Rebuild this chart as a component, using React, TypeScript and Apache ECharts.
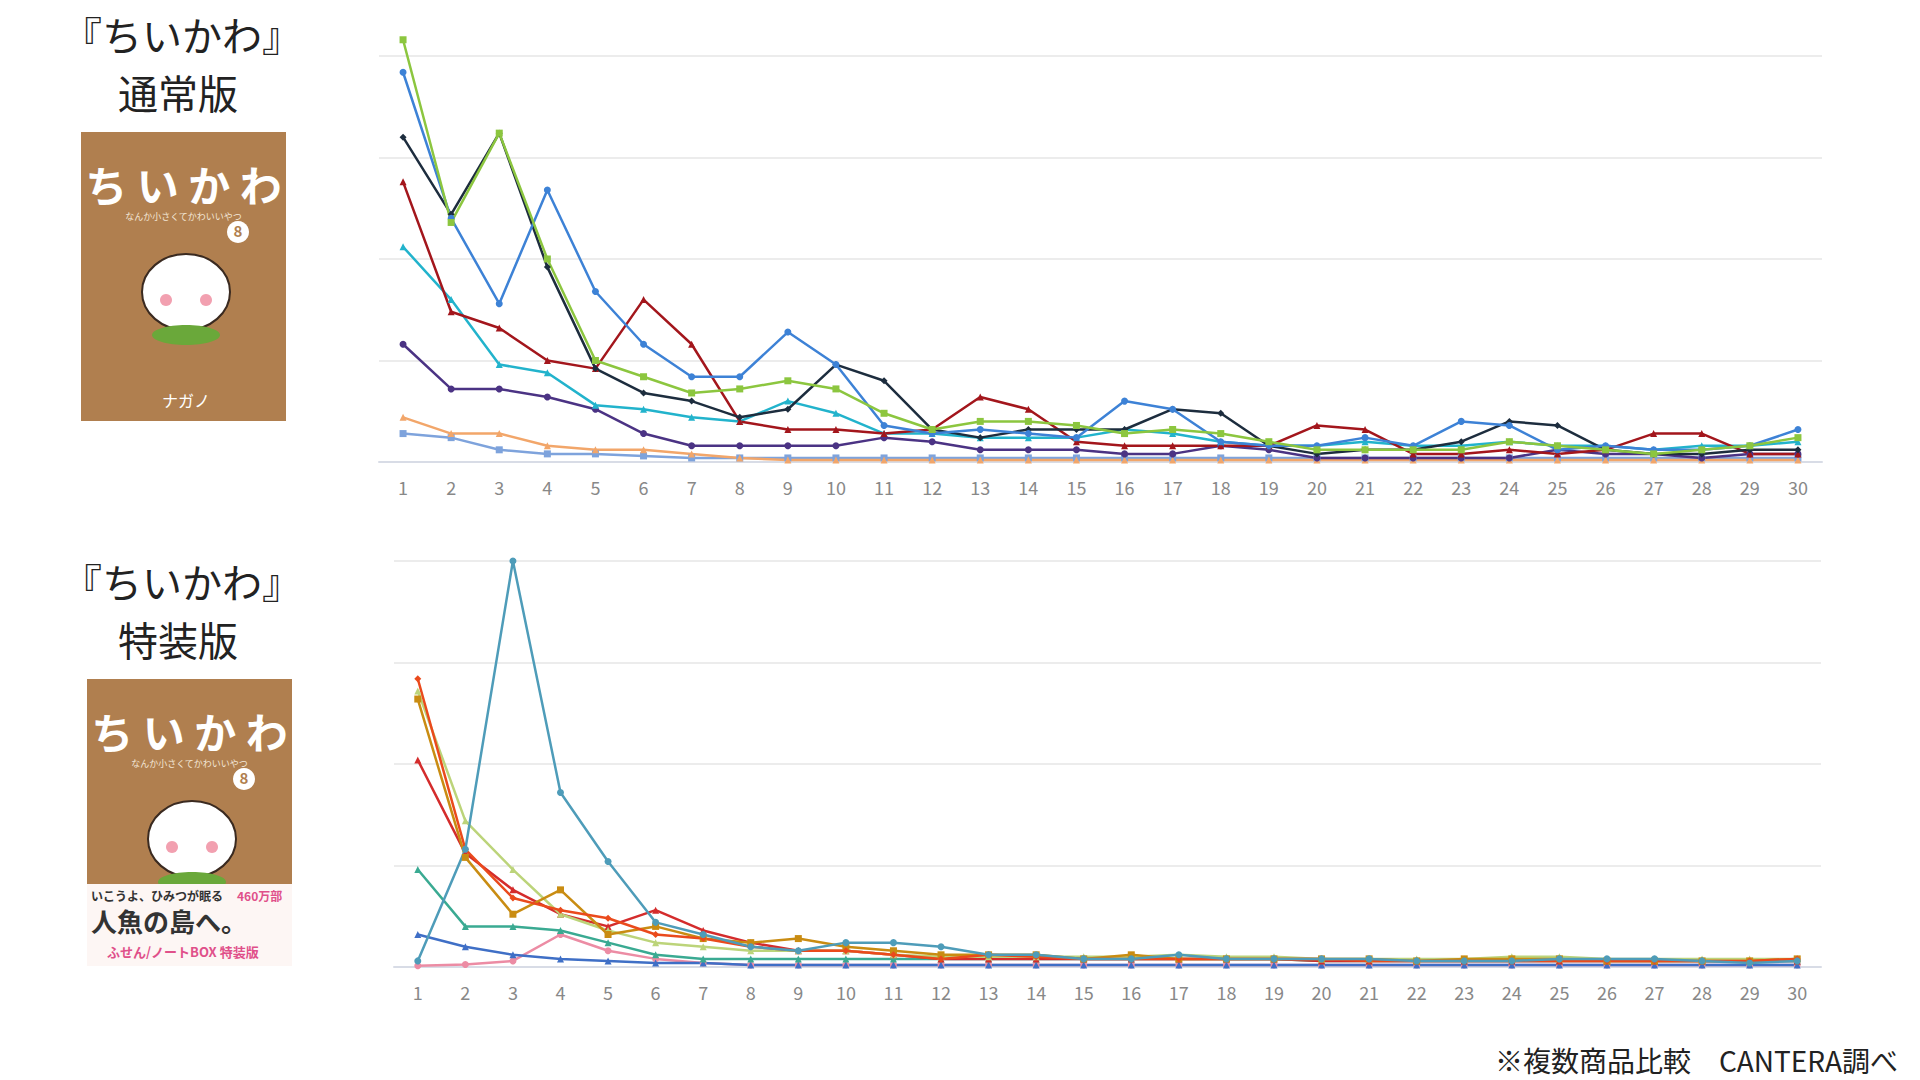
import { useEffect, useRef } from "react";
import * as echarts from "echarts";

const days = Array.from({ length: 30 }, (_, i) => String(i + 1));

// 通常版
const normGreen = [104, 59, 81, 50, 25, 21, 17, 18, 20, 18, 12, 8, 10, 10, 9, 7, 8, 7, 5, 3, 3, 3, 3, 5, 4, 3, 2, 3, 4, 6];
const normBlue = [96, 60, 39, 67, 42, 29, 21, 21, 32, 24, 9, 7, 8, 7, 6, 15, 13, 5, 4, 4, 6, 4, 10, 9, 3, 4, 3, 3, 4, 8];
const normNavy = [80, 61, 81, 48, 23, 17, 15, 11, 13, 24, 20, 8, 6, 8, 8, 8, 13, 12, 4, 2, 3, 3, 5, 10, 9, 3, 2, 2, 3, 3];
const normRed = [69, 37, 33, 25, 23, 40, 29, 10, 8, 8, 7, 8, 16, 13, 5, 4, 4, 4, 4, 9, 8, 2, 2, 3, 2, 3, 7, 7, 2, 2];
const normCyan = [53, 40, 24, 22, 14, 13, 11, 10, 15, 12, 7, 7, 6, 6, 6, 8, 7, 5, 4, 4, 5, 4, 4, 5, 4, 4, 3, 4, 4, 5];
const normPurple = [29, 18, 18, 16, 13, 7, 4, 4, 4, 4, 6, 5, 3, 3, 3, 2, 2, 4, 3, 1, 1, 1, 1, 1, 3, 2, 2, 1, 2, 2];
const normOrange = [11, 7, 7, 4, 3, 3, 2, 1, 0.5, 0.5, 0.5, 0.5, 0.5, 0.5, 0.5, 0.5, 0.5, 0.5, 0.5, 0.5, 0.5, 0.5, 0.5, 0.5, 0.5, 0.5, 0.5, 0.5, 0.5, 0.5];
const normLightBlue = [7, 6, 3, 2, 2, 1.5, 1, 1, 1, 1, 1, 1, 1, 1, 1, 1, 1, 1, 1, 1, 1, 1, 1, 1, 1, 1, 1, 1, 1, 1];

// 特装版
const specTeal = [1.5, 29, 100, 43, 26, 11, 8, 5, 4, 6, 6, 5, 3, 3, 2, 2, 3, 2, 2, 2, 2, 1.5, 1.5, 1.5, 2, 2, 2, 1.5, 1, 1.5];
const specOrangeRed = [71, 29, 17, 14, 12, 8, 7, 5, 4, 4, 3, 2, 3, 2.5, 2, 2, 2, 2, 2, 2, 1.5, 1.5, 1.5, 1.5, 1.5, 1.5, 1.5, 1.5, 1.5, 2];
const specGold = [66, 27, 13, 19, 8, 10, 7, 6, 7, 5, 4, 3, 3, 3, 2, 3, 2, 2, 2, 2, 2, 1.5, 2, 2, 2, 1.5, 1.5, 1.5, 1.5, 2];
const specYellowGreen = [68, 36, 24, 13, 9, 6, 5, 4, 4, 4, 3, 2.5, 2.5, 2.5, 2.5, 2.5, 3, 2.5, 2.5, 2, 2, 2, 2, 2.5, 2.5, 2, 2, 2, 2, 2];
const specCrimson = [51, 28, 19, 13, 10, 14, 9, 6, 4, 4, 3, 2, 2, 2, 2, 2, 2, 2, 2, 1.5, 1.5, 1.5, 1.5, 1.5, 1.5, 1.5, 1.5, 1.5, 1.5, 1.5];
const specGreen = [24, 10, 10, 9, 6, 3, 2, 2, 2, 2, 2, 2, 2, 2, 2, 2, 2, 2, 2, 1.5, 1.5, 1.5, 1.5, 1.5, 1.5, 1.5, 1.5, 1.5, 1.5, 1.5];
const specBlue = [8, 5, 3, 2, 1.5, 1, 1, 0.5, 0.5, 0.5, 0.5, 0.5, 0.5, 0.5, 0.5, 0.5, 0.5, 0.5, 0.5, 0.5, 0.5, 0.5, 0.5, 0.5, 0.5, 0.5, 0.5, 0.5, 0.5, 0.5];
const specPink = [0.3, 0.6, 1.5, 8, 4, 2, 1, 0.5, 0.5, 0.5, 0.5, 0.5, 0.5, 0.5, 0.5, 0.5, 0.5, 0.5, 0.5, 0.5, 0.5, 0.5, 0.5, 0.5, 0.5, 0.5, 0.5, 0.5, 0.5, 0.5];

const FONT = "'Noto Sans CJK JP', 'Noto Sans', sans-serif";

function line(data: number[], color: string, symbol: string, idx: number) {
  return {
    type: "line" as const,
    data,
    xAxisIndex: idx,
    yAxisIndex: idx,
    symbol,
    symbolSize: 7,
    clip: false,
    lineStyle: { color, width: 2.5 },
    itemStyle: { color },
  };
}

function cover(x: number, y: number, h: number, special: boolean) {
  const w = 205;
  const kids: any[] = [
    { type: "rect", shape: { x, y, width: w, height: h }, style: { fill: "#b07f4f" } },
    { type: "text", x: x + w / 2, y: y + 30, style: { text: "ち い か わ", fill: "#fff", font: `bold 42px ${FONT}`, textAlign: "center" } },
    { type: "text", x: x + w / 2, y: y + 80, style: { text: "なんか小さくてかわいいやつ", fill: "#f3e6d6", font: `9px ${FONT}`, textAlign: "center" } },
    { type: "circle", shape: { cx: x + 157, cy: y + 100, r: 11 }, style: { fill: "#fff" } },
    { type: "text", x: x + 157, y: y + 91, style: { text: "8", fill: "#b07f4f", font: `bold 15px ${FONT}`, textAlign: "center" } },
    { type: "ellipse", shape: { cx: x + 105, cy: y + 160, rx: 44, ry: 38 }, style: { fill: "#fff", stroke: "#3a2a20", lineWidth: 2 } },
    { type: "ellipse", shape: { cx: x + 105, cy: y + 203, rx: 34, ry: 10 }, style: { fill: "#6aa83a" } },
    { type: "circle", shape: { cx: x + 85, cy: y + 168, r: 6 }, style: { fill: "#f2a0b0" } },
    { type: "circle", shape: { cx: x + 125, cy: y + 168, r: 6 }, style: { fill: "#f2a0b0" } },
  ];
  if (!special) {
    kids.push({ type: "text", x: x + 105, y: y + 260, style: { text: "ナガノ", fill: "#fff", font: `16px ${FONT}`, textAlign: "center" } });
  } else {
    kids.push(
      { type: "rect", shape: { x, y: y + 205, width: w, height: h - 205 }, style: { fill: "#fdf6f4" } },
      { type: "text", x: x + 4, y: y + 210, style: { text: "いこうよ、ひみつが眠る", fill: "#333", font: `bold 12px ${FONT}` } },
      { type: "text", x: x + 4, y: y + 228, style: { text: "人魚の島へ。", fill: "#333", font: `bold 26px ${FONT}` } },
      { type: "text", x: x + 150, y: y + 210, style: { text: "460万部", fill: "#e0508a", font: `bold 12px ${FONT}` } },
      { type: "text", x: x + 20, y: y + 266, style: { text: "ふせん/ノートBOX 特装版", fill: "#e0508a", font: `bold 13px ${FONT}` } },
    );
  }
  return { type: "group", children: kids };
}

export default function App() {
  const el = useRef<HTMLDivElement>(null);

  useEffect(() => {
    if (!el.current) return;
    const chart = echarts.init(el.current, undefined, { renderer: "svg" });
    const xAxis = (gi: number) => ({
      type: "category" as const,
      gridIndex: gi,
      data: days,
      axisLine: { lineStyle: { color: "#d8dce6", width: 2 } },
      axisTick: { show: false },
      axisLabel: { color: "#888", fontSize: 18, fontFamily: FONT, margin: 16, interval: 0 },
    });
    const yAxis = (gi: number) => ({
      type: "value" as const,
      gridIndex: gi,
      min: 0,
      max: 100,
      interval: 25,
      axisLabel: { show: false },
      axisLine: { show: false },
      axisTick: { show: false },
      splitLine: { lineStyle: { color: "#e6e6e6", width: 1.5 } },
    });
    chart.setOption({
      animation: false,
      backgroundColor: "#fff",
      grid: [
        { left: 379, right: 98, top: 56, height: 406 },
        { left: 394, right: 99, top: 561, height: 406 },
      ],
      xAxis: [xAxis(0), xAxis(1)],
      yAxis: [yAxis(0), yAxis(1)],
      series: [
        line(normLightBlue, "#7ea3dc", "rect", 0),
        line(normOrange, "#f2a66a", "triangle", 0),
        line(normPurple, "#4b3384", "circle", 0),
        line(normCyan, "#22b3cc", "triangle", 0),
        line(normRed, "#a3161c", "triangle", 0),
        line(normNavy, "#1d2d3e", "diamond", 0),
        line(normBlue, "#3d82d6", "circle", 0),
        line(normGreen, "#8cc63f", "rect", 0),
        line(specPink, "#ec8ca4", "circle", 1),
        line(specBlue, "#3f6fc6", "triangle", 1),
        line(specGreen, "#3aaa92", "triangle", 1),
        line(specCrimson, "#d42c2c", "triangle", 1),
        line(specYellowGreen, "#bcd47a", "triangle", 1),
        line(specGold, "#c98c12", "rect", 1),
        line(specOrangeRed, "#ea4a1c", "diamond", 1),
        line(specTeal, "#4e9cb9", "circle", 1),
      ],
      graphic: [
        { type: "text", left: 62, top: 14, style: { text: "『ちいかわ』", fill: "#222", font: `40px ${FONT}` } },
        { type: "text", left: 118, top: 72, style: { text: "通常版", fill: "#222", font: `40px ${FONT}` } },
        { type: "text", left: 62, top: 561, style: { text: "『ちいかわ』", fill: "#222", font: `40px ${FONT}` } },
        { type: "text", left: 118, top: 619, style: { text: "特装版", fill: "#222", font: `40px ${FONT}` } },
        cover(81, 132, 289, false),
        cover(87, 679, 287, true),
        { type: "text", right: 22, top: 1046, style: { text: "※複数商品比較　CANTERA調べ", fill: "#222", font: `28px ${FONT}` } },
      ],
    });
    return () => chart.dispose();
  }, []);

  return <div ref={el} style={{ position: "fixed", left: 0, top: 0, width: 1920, height: 1080 }} />;
}
